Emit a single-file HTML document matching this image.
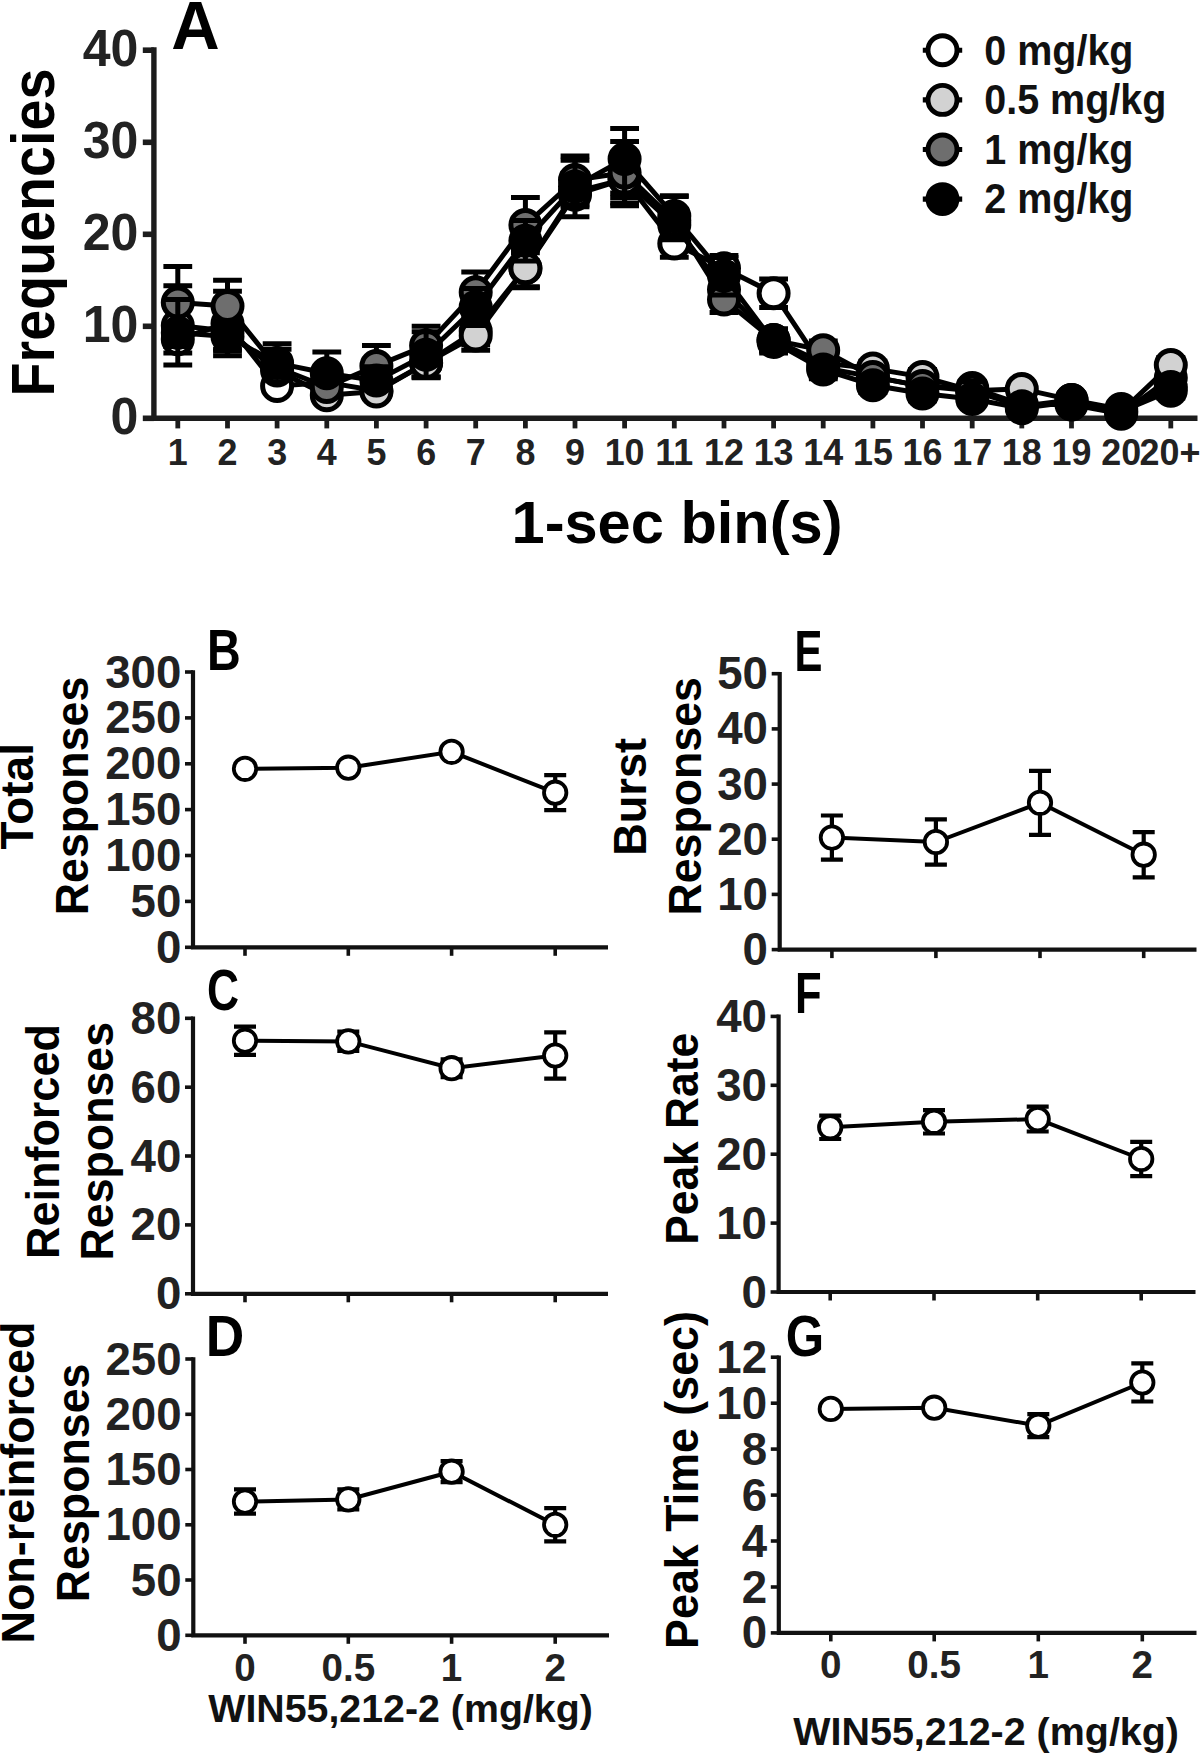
<!DOCTYPE html>
<html lang="en"><head><meta charset="utf-8"><title>Figure</title>
<style>
html,body{margin:0;padding:0;background:#fff;}
body{width:1200px;height:1753px;overflow:hidden;font-family:"Liberation Sans",Arial,Helvetica,sans-serif;}
svg{display:block;}
</style></head><body>
<svg width="1200" height="1753" viewBox="0 0 1200 1753">
<rect width="1200" height="1753" fill="#fff"/>
<g id="panelA">
<path d="M153.9,47.3V418.3H1197.5" fill="none" stroke="#1c1c1c" stroke-width="5.4" stroke-linejoin="miter"/>
<line x1="142.8" x2="153.9" y1="418.3" y2="418.3" stroke="#1c1c1c" stroke-width="5.6"/>
<text transform="translate(138.3,433.7) scale(0.962,1)" font-size="52" text-anchor="end" fill="#222" font-family="Liberation Sans, Arial, Helvetica, sans-serif" font-weight="bold">0</text>
<line x1="142.8" x2="153.9" y1="326.3" y2="326.3" stroke="#1c1c1c" stroke-width="5.6"/>
<text transform="translate(138.3,341.7) scale(0.962,1)" font-size="52" text-anchor="end" fill="#222" font-family="Liberation Sans, Arial, Helvetica, sans-serif" font-weight="bold">10</text>
<line x1="142.8" x2="153.9" y1="234.3" y2="234.3" stroke="#1c1c1c" stroke-width="5.6"/>
<text transform="translate(138.3,249.7) scale(0.962,1)" font-size="52" text-anchor="end" fill="#222" font-family="Liberation Sans, Arial, Helvetica, sans-serif" font-weight="bold">20</text>
<line x1="142.8" x2="153.9" y1="142.3" y2="142.3" stroke="#1c1c1c" stroke-width="5.6"/>
<text transform="translate(138.3,157.7) scale(0.962,1)" font-size="52" text-anchor="end" fill="#222" font-family="Liberation Sans, Arial, Helvetica, sans-serif" font-weight="bold">30</text>
<line x1="142.8" x2="153.9" y1="50.2" y2="50.2" stroke="#1c1c1c" stroke-width="5.6"/>
<text transform="translate(138.3,65.6) scale(0.962,1)" font-size="52" text-anchor="end" fill="#222" font-family="Liberation Sans, Arial, Helvetica, sans-serif" font-weight="bold">40</text>
<line x1="177.8" x2="177.8" y1="418.3" y2="428.4" stroke="#1c1c1c" stroke-width="4.8"/>
<text transform="translate(177.8,464.7) scale(0.970,1)" font-size="37" text-anchor="middle" fill="#222" font-family="Liberation Sans, Arial, Helvetica, sans-serif" font-weight="bold">1</text>
<line x1="227.5" x2="227.5" y1="418.3" y2="428.4" stroke="#1c1c1c" stroke-width="4.8"/>
<text transform="translate(227.5,464.7) scale(0.970,1)" font-size="37" text-anchor="middle" fill="#222" font-family="Liberation Sans, Arial, Helvetica, sans-serif" font-weight="bold">2</text>
<line x1="277.1" x2="277.1" y1="418.3" y2="428.4" stroke="#1c1c1c" stroke-width="4.8"/>
<text transform="translate(277.1,464.7) scale(0.970,1)" font-size="37" text-anchor="middle" fill="#222" font-family="Liberation Sans, Arial, Helvetica, sans-serif" font-weight="bold">3</text>
<line x1="326.8" x2="326.8" y1="418.3" y2="428.4" stroke="#1c1c1c" stroke-width="4.8"/>
<text transform="translate(326.8,464.7) scale(0.970,1)" font-size="37" text-anchor="middle" fill="#222" font-family="Liberation Sans, Arial, Helvetica, sans-serif" font-weight="bold">4</text>
<line x1="376.4" x2="376.4" y1="418.3" y2="428.4" stroke="#1c1c1c" stroke-width="4.8"/>
<text transform="translate(376.4,464.7) scale(0.970,1)" font-size="37" text-anchor="middle" fill="#222" font-family="Liberation Sans, Arial, Helvetica, sans-serif" font-weight="bold">5</text>
<line x1="426.1" x2="426.1" y1="418.3" y2="428.4" stroke="#1c1c1c" stroke-width="4.8"/>
<text transform="translate(426.1,464.7) scale(0.970,1)" font-size="37" text-anchor="middle" fill="#222" font-family="Liberation Sans, Arial, Helvetica, sans-serif" font-weight="bold">6</text>
<line x1="475.7" x2="475.7" y1="418.3" y2="428.4" stroke="#1c1c1c" stroke-width="4.8"/>
<text transform="translate(475.7,464.7) scale(0.970,1)" font-size="37" text-anchor="middle" fill="#222" font-family="Liberation Sans, Arial, Helvetica, sans-serif" font-weight="bold">7</text>
<line x1="525.4" x2="525.4" y1="418.3" y2="428.4" stroke="#1c1c1c" stroke-width="4.8"/>
<text transform="translate(525.4,464.7) scale(0.970,1)" font-size="37" text-anchor="middle" fill="#222" font-family="Liberation Sans, Arial, Helvetica, sans-serif" font-weight="bold">8</text>
<line x1="575.0" x2="575.0" y1="418.3" y2="428.4" stroke="#1c1c1c" stroke-width="4.8"/>
<text transform="translate(575.0,464.7) scale(0.970,1)" font-size="37" text-anchor="middle" fill="#222" font-family="Liberation Sans, Arial, Helvetica, sans-serif" font-weight="bold">9</text>
<line x1="624.6" x2="624.6" y1="418.3" y2="428.4" stroke="#1c1c1c" stroke-width="4.8"/>
<text transform="translate(624.6,464.7) scale(0.970,1)" font-size="37" text-anchor="middle" fill="#222" font-family="Liberation Sans, Arial, Helvetica, sans-serif" font-weight="bold">10</text>
<line x1="674.3" x2="674.3" y1="418.3" y2="428.4" stroke="#1c1c1c" stroke-width="4.8"/>
<text transform="translate(674.3,464.7) scale(0.970,1)" font-size="37" text-anchor="middle" fill="#222" font-family="Liberation Sans, Arial, Helvetica, sans-serif" font-weight="bold">11</text>
<line x1="724.0" x2="724.0" y1="418.3" y2="428.4" stroke="#1c1c1c" stroke-width="4.8"/>
<text transform="translate(724.0,464.7) scale(0.970,1)" font-size="37" text-anchor="middle" fill="#222" font-family="Liberation Sans, Arial, Helvetica, sans-serif" font-weight="bold">12</text>
<line x1="773.6" x2="773.6" y1="418.3" y2="428.4" stroke="#1c1c1c" stroke-width="4.8"/>
<text transform="translate(773.6,464.7) scale(0.970,1)" font-size="37" text-anchor="middle" fill="#222" font-family="Liberation Sans, Arial, Helvetica, sans-serif" font-weight="bold">13</text>
<line x1="823.2" x2="823.2" y1="418.3" y2="428.4" stroke="#1c1c1c" stroke-width="4.8"/>
<text transform="translate(823.2,464.7) scale(0.970,1)" font-size="37" text-anchor="middle" fill="#222" font-family="Liberation Sans, Arial, Helvetica, sans-serif" font-weight="bold">14</text>
<line x1="872.9" x2="872.9" y1="418.3" y2="428.4" stroke="#1c1c1c" stroke-width="4.8"/>
<text transform="translate(872.9,464.7) scale(0.970,1)" font-size="37" text-anchor="middle" fill="#222" font-family="Liberation Sans, Arial, Helvetica, sans-serif" font-weight="bold">15</text>
<line x1="922.5" x2="922.5" y1="418.3" y2="428.4" stroke="#1c1c1c" stroke-width="4.8"/>
<text transform="translate(922.5,464.7) scale(0.970,1)" font-size="37" text-anchor="middle" fill="#222" font-family="Liberation Sans, Arial, Helvetica, sans-serif" font-weight="bold">16</text>
<line x1="972.2" x2="972.2" y1="418.3" y2="428.4" stroke="#1c1c1c" stroke-width="4.8"/>
<text transform="translate(972.2,464.7) scale(0.970,1)" font-size="37" text-anchor="middle" fill="#222" font-family="Liberation Sans, Arial, Helvetica, sans-serif" font-weight="bold">17</text>
<line x1="1021.8" x2="1021.8" y1="418.3" y2="428.4" stroke="#1c1c1c" stroke-width="4.8"/>
<text transform="translate(1021.8,464.7) scale(0.970,1)" font-size="37" text-anchor="middle" fill="#222" font-family="Liberation Sans, Arial, Helvetica, sans-serif" font-weight="bold">18</text>
<line x1="1071.5" x2="1071.5" y1="418.3" y2="428.4" stroke="#1c1c1c" stroke-width="4.8"/>
<text transform="translate(1071.5,464.7) scale(0.970,1)" font-size="37" text-anchor="middle" fill="#222" font-family="Liberation Sans, Arial, Helvetica, sans-serif" font-weight="bold">19</text>
<line x1="1121.2" x2="1121.2" y1="418.3" y2="428.4" stroke="#1c1c1c" stroke-width="4.8"/>
<text transform="translate(1121.2,464.7) scale(0.970,1)" font-size="37" text-anchor="middle" fill="#222" font-family="Liberation Sans, Arial, Helvetica, sans-serif" font-weight="bold">20</text>
<line x1="1170.8" x2="1170.8" y1="418.3" y2="428.4" stroke="#1c1c1c" stroke-width="4.8"/>
<text transform="translate(1169.9,464.7) scale(0.970,1)" font-size="37" text-anchor="middle" fill="#222" font-family="Liberation Sans, Arial, Helvetica, sans-serif" font-weight="bold">20+</text>
<path d="M177.8,325.4V353.0M163.4,325.4h28.8M163.4,353.0h28.8M227.5,291.3V355.7M213.1,291.3h28.8M213.1,355.7h28.8M277.1,380.6V391.6M262.7,380.6h28.8M262.7,391.6h28.8M326.8,376.9V387.9M312.4,376.9h28.8M312.4,387.9h28.8M376.4,385.2V396.2M362.0,385.2h28.8M362.0,396.2h28.8M426.1,349.3V376.9M411.7,349.3h28.8M411.7,376.9h28.8M475.7,317.1V344.7M461.3,317.1h28.8M461.3,344.7h28.8M525.4,249.9V286.7M511.0,249.9h28.8M511.0,286.7h28.8M575.0,176.3V216.8M560.6,176.3h28.8M560.6,216.8h28.8M624.6,169.9V197.5M610.2,169.9h28.8M610.2,197.5h28.8M674.3,229.7V257.3M659.9,229.7h28.8M659.9,257.3h28.8M724.0,255.5V281.2M709.6,255.5h28.8M709.6,281.2h28.8M773.6,278.9V307.4M759.2,278.9h28.8M759.2,307.4h28.8M823.2,358.5V376.9M808.9,358.5h28.8M808.9,376.9h28.8M872.9,369.5V384.3M858.5,369.5h28.8M858.5,384.3h28.8M922.5,378.7V393.5M908.1,378.7h28.8M908.1,393.5h28.8M972.2,382.4V393.5M957.8,382.4h28.8M957.8,393.5h28.8M1021.8,399.9V409.1M1007.4,399.9h28.8M1007.4,409.1h28.8M1071.5,399.9V409.1M1057.1,399.9h28.8M1057.1,409.1h28.8M1121.2,410.9V416.5M1106.8,410.9h28.8M1106.8,416.5h28.8M1170.8,370.5V385.2M1156.4,370.5h28.8M1156.4,385.2h28.8" fill="none" stroke="#000" stroke-width="5.0"/>
<polyline points="177.8,339.2 227.5,323.5 277.1,386.1 326.8,382.4 376.4,390.7 426.1,363.1 475.7,330.9 525.4,268.3 575.0,194.7 624.6,179.1 674.3,243.5 724.0,268.3 773.6,293.2 823.2,367.7 872.9,376.9 922.5,386.1 972.2,387.9 1021.8,404.5 1071.5,404.5 1121.2,413.7 1170.8,377.8" fill="none" stroke="#000" stroke-width="5.0" stroke-linejoin="round"/>
<circle cx="177.8" cy="339.2" r="14.5" fill="#ffffff" stroke="#000" stroke-width="5.0"/>
<circle cx="227.5" cy="323.5" r="14.5" fill="#ffffff" stroke="#000" stroke-width="5.0"/>
<circle cx="277.1" cy="386.1" r="14.5" fill="#ffffff" stroke="#000" stroke-width="5.0"/>
<circle cx="326.8" cy="382.4" r="14.5" fill="#ffffff" stroke="#000" stroke-width="5.0"/>
<circle cx="376.4" cy="390.7" r="14.5" fill="#ffffff" stroke="#000" stroke-width="5.0"/>
<circle cx="426.1" cy="363.1" r="14.5" fill="#ffffff" stroke="#000" stroke-width="5.0"/>
<circle cx="475.7" cy="330.9" r="14.5" fill="#ffffff" stroke="#000" stroke-width="5.0"/>
<circle cx="525.4" cy="268.3" r="14.5" fill="#ffffff" stroke="#000" stroke-width="5.0"/>
<circle cx="575.0" cy="194.7" r="14.5" fill="#ffffff" stroke="#000" stroke-width="5.0"/>
<circle cx="624.6" cy="179.1" r="14.5" fill="#ffffff" stroke="#000" stroke-width="5.0"/>
<circle cx="674.3" cy="243.5" r="14.5" fill="#ffffff" stroke="#000" stroke-width="5.0"/>
<circle cx="724.0" cy="268.3" r="14.5" fill="#ffffff" stroke="#000" stroke-width="5.0"/>
<circle cx="773.6" cy="293.2" r="14.5" fill="#ffffff" stroke="#000" stroke-width="5.0"/>
<circle cx="823.2" cy="367.7" r="14.5" fill="#ffffff" stroke="#000" stroke-width="5.0"/>
<circle cx="872.9" cy="376.9" r="14.5" fill="#ffffff" stroke="#000" stroke-width="5.0"/>
<circle cx="922.5" cy="386.1" r="14.5" fill="#ffffff" stroke="#000" stroke-width="5.0"/>
<circle cx="972.2" cy="387.9" r="14.5" fill="#ffffff" stroke="#000" stroke-width="5.0"/>
<circle cx="1021.8" cy="404.5" r="14.5" fill="#ffffff" stroke="#000" stroke-width="5.0"/>
<circle cx="1071.5" cy="404.5" r="14.5" fill="#ffffff" stroke="#000" stroke-width="5.0"/>
<circle cx="1121.2" cy="413.7" r="14.5" fill="#ffffff" stroke="#000" stroke-width="5.0"/>
<circle cx="1170.8" cy="377.8" r="14.5" fill="#ffffff" stroke="#000" stroke-width="5.0"/>
<path d="M177.8,285.8V364.9M163.4,285.8h28.8M163.4,364.9h28.8M227.5,312.5V349.3M213.1,312.5h28.8M213.1,349.3h28.8M277.1,364.9V376.0M262.7,364.9h28.8M262.7,376.0h28.8M326.8,389.8V400.8M312.4,389.8h28.8M312.4,400.8h28.8M376.4,386.1V397.1M362.0,386.1h28.8M362.0,397.1h28.8M426.1,349.3V376.9M411.7,349.3h28.8M411.7,376.9h28.8M475.7,320.8V350.2M461.3,320.8h28.8M461.3,350.2h28.8M525.4,249.0V287.7M511.0,249.0h28.8M511.0,287.7h28.8M575.0,173.6V206.7M560.6,173.6h28.8M560.6,206.7h28.8M624.6,169.9V203.0M610.2,169.9h28.8M610.2,203.0h28.8M674.3,210.4V239.8M659.9,210.4h28.8M659.9,239.8h28.8M724.0,276.6V302.4M709.6,276.6h28.8M709.6,302.4h28.8M773.6,329.1V351.1M759.2,329.1h28.8M759.2,351.1h28.8M823.2,353.9V372.3M808.9,353.9h28.8M808.9,372.3h28.8M872.9,361.3V376.0M858.5,361.3h28.8M858.5,376.0h28.8M922.5,369.5V384.3M908.1,369.5h28.8M908.1,384.3h28.8M972.2,385.2V396.2M957.8,385.2h28.8M957.8,396.2h28.8M1021.8,384.3V393.5M1007.4,384.3h28.8M1007.4,393.5h28.8M1071.5,395.3V404.5M1057.1,395.3h28.8M1057.1,404.5h28.8M1121.2,409.1V414.6M1106.8,409.1h28.8M1106.8,414.6h28.8M1170.8,357.6V372.3M1156.4,357.6h28.8M1156.4,372.3h28.8" fill="none" stroke="#000" stroke-width="5.0"/>
<polyline points="177.8,325.4 227.5,330.9 277.1,370.5 326.8,395.3 376.4,391.6 426.1,363.1 475.7,335.5 525.4,268.3 575.0,192.0 624.6,179.1 674.3,225.1 724.0,289.5 773.6,340.1 823.2,363.1 872.9,368.6 922.5,376.9 972.2,390.7 1021.8,388.9 1071.5,399.9 1121.2,411.9 1170.8,364.9" fill="none" stroke="#000" stroke-width="5.0" stroke-linejoin="round"/>
<circle cx="177.8" cy="325.4" r="14.5" fill="#d2d2d2" stroke="#000" stroke-width="5.0"/>
<circle cx="227.5" cy="330.9" r="14.5" fill="#d2d2d2" stroke="#000" stroke-width="5.0"/>
<circle cx="277.1" cy="370.5" r="14.5" fill="#d2d2d2" stroke="#000" stroke-width="5.0"/>
<circle cx="326.8" cy="395.3" r="14.5" fill="#d2d2d2" stroke="#000" stroke-width="5.0"/>
<circle cx="376.4" cy="391.6" r="14.5" fill="#d2d2d2" stroke="#000" stroke-width="5.0"/>
<circle cx="426.1" cy="363.1" r="14.5" fill="#d2d2d2" stroke="#000" stroke-width="5.0"/>
<circle cx="475.7" cy="335.5" r="14.5" fill="#d2d2d2" stroke="#000" stroke-width="5.0"/>
<circle cx="525.4" cy="268.3" r="14.5" fill="#d2d2d2" stroke="#000" stroke-width="5.0"/>
<circle cx="575.0" cy="192.0" r="14.5" fill="#d2d2d2" stroke="#000" stroke-width="5.0"/>
<circle cx="624.6" cy="179.1" r="14.5" fill="#d2d2d2" stroke="#000" stroke-width="5.0"/>
<circle cx="674.3" cy="225.1" r="14.5" fill="#d2d2d2" stroke="#000" stroke-width="5.0"/>
<circle cx="724.0" cy="289.5" r="14.5" fill="#d2d2d2" stroke="#000" stroke-width="5.0"/>
<circle cx="773.6" cy="340.1" r="14.5" fill="#d2d2d2" stroke="#000" stroke-width="5.0"/>
<circle cx="823.2" cy="363.1" r="14.5" fill="#d2d2d2" stroke="#000" stroke-width="5.0"/>
<circle cx="872.9" cy="368.6" r="14.5" fill="#d2d2d2" stroke="#000" stroke-width="5.0"/>
<circle cx="922.5" cy="376.9" r="14.5" fill="#d2d2d2" stroke="#000" stroke-width="5.0"/>
<circle cx="972.2" cy="390.7" r="14.5" fill="#d2d2d2" stroke="#000" stroke-width="5.0"/>
<circle cx="1021.8" cy="388.9" r="14.5" fill="#d2d2d2" stroke="#000" stroke-width="5.0"/>
<circle cx="1071.5" cy="399.9" r="14.5" fill="#d2d2d2" stroke="#000" stroke-width="5.0"/>
<circle cx="1121.2" cy="411.9" r="14.5" fill="#d2d2d2" stroke="#000" stroke-width="5.0"/>
<circle cx="1170.8" cy="364.9" r="14.5" fill="#d2d2d2" stroke="#000" stroke-width="5.0"/>
<path d="M177.8,266.5V338.3M163.4,266.5h28.8M163.4,338.3h28.8M227.5,280.3V331.8M213.1,280.3h28.8M213.1,331.8h28.8M277.1,349.3V373.2M262.7,349.3h28.8M262.7,373.2h28.8M326.8,372.3V392.5M312.4,372.3h28.8M312.4,392.5h28.8M376.4,345.6V371.4M362.0,345.6h28.8M362.0,371.4h28.8M426.1,326.3V364.9M411.7,326.3h28.8M411.7,364.9h28.8M475.7,272.0V312.5M461.3,272.0h28.8M461.3,312.5h28.8M525.4,197.5V252.7M511.0,197.5h28.8M511.0,252.7h28.8M575.0,156.1V189.2M560.6,156.1h28.8M560.6,189.2h28.8M624.6,141.4V205.8M610.2,141.4h28.8M610.2,205.8h28.8M674.3,196.6V229.7M659.9,196.6h28.8M659.9,229.7h28.8M724.0,286.7V312.5M709.6,286.7h28.8M709.6,312.5h28.8M773.6,329.1V351.1M759.2,329.1h28.8M759.2,351.1h28.8M823.2,341.0V359.4M808.9,341.0h28.8M808.9,359.4h28.8M872.9,369.5V384.3M858.5,369.5h28.8M858.5,384.3h28.8M922.5,378.7V393.5M908.1,378.7h28.8M908.1,393.5h28.8M972.2,385.2V396.2M957.8,385.2h28.8M957.8,396.2h28.8M1021.8,401.7V410.9M1007.4,401.7h28.8M1007.4,410.9h28.8M1071.5,395.3V404.5M1057.1,395.3h28.8M1057.1,404.5h28.8M1121.2,406.3V411.9M1106.8,406.3h28.8M1106.8,411.9h28.8M1170.8,379.7V394.4M1156.4,379.7h28.8M1156.4,394.4h28.8" fill="none" stroke="#000" stroke-width="5.0"/>
<polyline points="177.8,302.4 227.5,306.1 277.1,367.7 326.8,387.0 376.4,365.9 426.1,345.6 475.7,292.3 525.4,225.1 575.0,180.0 624.6,172.7 674.3,220.5 724.0,299.6 773.6,340.1 823.2,350.2 872.9,376.9 922.5,386.1 972.2,390.7 1021.8,406.3 1071.5,399.9 1121.2,409.1 1170.8,387.0" fill="none" stroke="#000" stroke-width="5.0" stroke-linejoin="round"/>
<circle cx="177.8" cy="302.4" r="14.5" fill="#6e6e6e" stroke="#000" stroke-width="5.0"/>
<circle cx="227.5" cy="306.1" r="14.5" fill="#6e6e6e" stroke="#000" stroke-width="5.0"/>
<circle cx="277.1" cy="367.7" r="14.5" fill="#6e6e6e" stroke="#000" stroke-width="5.0"/>
<circle cx="326.8" cy="387.0" r="14.5" fill="#6e6e6e" stroke="#000" stroke-width="5.0"/>
<circle cx="376.4" cy="365.9" r="14.5" fill="#6e6e6e" stroke="#000" stroke-width="5.0"/>
<circle cx="426.1" cy="345.6" r="14.5" fill="#6e6e6e" stroke="#000" stroke-width="5.0"/>
<circle cx="475.7" cy="292.3" r="14.5" fill="#6e6e6e" stroke="#000" stroke-width="5.0"/>
<circle cx="525.4" cy="225.1" r="14.5" fill="#6e6e6e" stroke="#000" stroke-width="5.0"/>
<circle cx="575.0" cy="180.0" r="14.5" fill="#6e6e6e" stroke="#000" stroke-width="5.0"/>
<circle cx="624.6" cy="172.7" r="14.5" fill="#6e6e6e" stroke="#000" stroke-width="5.0"/>
<circle cx="674.3" cy="220.5" r="14.5" fill="#6e6e6e" stroke="#000" stroke-width="5.0"/>
<circle cx="724.0" cy="299.6" r="14.5" fill="#6e6e6e" stroke="#000" stroke-width="5.0"/>
<circle cx="773.6" cy="340.1" r="14.5" fill="#6e6e6e" stroke="#000" stroke-width="5.0"/>
<circle cx="823.2" cy="350.2" r="14.5" fill="#6e6e6e" stroke="#000" stroke-width="5.0"/>
<circle cx="872.9" cy="376.9" r="14.5" fill="#6e6e6e" stroke="#000" stroke-width="5.0"/>
<circle cx="922.5" cy="386.1" r="14.5" fill="#6e6e6e" stroke="#000" stroke-width="5.0"/>
<circle cx="972.2" cy="390.7" r="14.5" fill="#6e6e6e" stroke="#000" stroke-width="5.0"/>
<circle cx="1021.8" cy="406.3" r="14.5" fill="#6e6e6e" stroke="#000" stroke-width="5.0"/>
<circle cx="1071.5" cy="399.9" r="14.5" fill="#6e6e6e" stroke="#000" stroke-width="5.0"/>
<circle cx="1121.2" cy="409.1" r="14.5" fill="#6e6e6e" stroke="#000" stroke-width="5.0"/>
<circle cx="1170.8" cy="387.0" r="14.5" fill="#6e6e6e" stroke="#000" stroke-width="5.0"/>
<path d="M177.8,299.6V346.5M163.4,299.6h28.8M163.4,346.5h28.8M227.5,321.7V351.1M213.1,321.7h28.8M213.1,351.1h28.8M277.1,343.8V368.6M262.7,343.8h28.8M262.7,368.6h28.8M326.8,352.1V378.7M312.4,352.1h28.8M312.4,378.7h28.8M376.4,366.8V386.1M362.0,366.8h28.8M362.0,386.1h28.8M426.1,331.8V377.8M411.7,331.8h28.8M411.7,377.8h28.8M475.7,288.6V325.4M461.3,288.6h28.8M461.3,325.4h28.8M525.4,220.5V261.0M511.0,220.5h28.8M511.0,261.0h28.8M575.0,160.2V204.9M560.6,160.2h28.8M560.6,204.9h28.8M624.6,128.5V192.9M610.2,128.5h28.8M610.2,192.9h28.8M674.3,195.7V236.1M659.9,195.7h28.8M659.9,236.1h28.8M724.0,257.5V295.0M709.6,257.5h28.8M709.6,295.0h28.8M773.6,330.9V353.0M759.2,330.9h28.8M759.2,353.0h28.8M823.2,360.3V378.7M808.9,360.3h28.8M808.9,378.7h28.8M872.9,377.8V392.5M858.5,377.8h28.8M858.5,392.5h28.8M922.5,386.1V400.8M908.1,386.1h28.8M908.1,400.8h28.8M972.2,381.5V404.5M957.8,381.5h28.8M957.8,404.5h28.8M1021.8,403.6V412.8M1007.4,403.6h28.8M1007.4,412.8h28.8M1071.5,397.1V406.3M1057.1,397.1h28.8M1057.1,406.3h28.8M1121.2,408.6V414.2M1106.8,408.6h28.8M1106.8,414.2h28.8M1170.8,383.3V398.1M1156.4,383.3h28.8M1156.4,398.1h28.8" fill="none" stroke="#000" stroke-width="5.0"/>
<polyline points="177.8,332.7 227.5,336.4 277.1,363.1 326.8,373.2 376.4,380.6 426.1,354.8 475.7,307.0 525.4,240.7 575.0,186.5 624.6,158.9 674.3,215.9 724.0,275.7 773.6,341.9 823.2,369.5 872.9,385.2 922.5,393.5 972.2,399.0 1021.8,408.2 1071.5,401.7 1121.2,411.4 1170.8,390.7" fill="none" stroke="#000" stroke-width="5.0" stroke-linejoin="round"/>
<circle cx="177.8" cy="332.7" r="14.5" fill="#000000" stroke="#000" stroke-width="5.0"/>
<circle cx="227.5" cy="336.4" r="14.5" fill="#000000" stroke="#000" stroke-width="5.0"/>
<circle cx="277.1" cy="363.1" r="14.5" fill="#000000" stroke="#000" stroke-width="5.0"/>
<circle cx="326.8" cy="373.2" r="14.5" fill="#000000" stroke="#000" stroke-width="5.0"/>
<circle cx="376.4" cy="380.6" r="14.5" fill="#000000" stroke="#000" stroke-width="5.0"/>
<circle cx="426.1" cy="354.8" r="14.5" fill="#000000" stroke="#000" stroke-width="5.0"/>
<circle cx="475.7" cy="307.0" r="14.5" fill="#000000" stroke="#000" stroke-width="5.0"/>
<circle cx="525.4" cy="240.7" r="14.5" fill="#000000" stroke="#000" stroke-width="5.0"/>
<circle cx="575.0" cy="186.5" r="14.5" fill="#000000" stroke="#000" stroke-width="5.0"/>
<circle cx="624.6" cy="158.9" r="14.5" fill="#000000" stroke="#000" stroke-width="5.0"/>
<circle cx="674.3" cy="215.9" r="14.5" fill="#000000" stroke="#000" stroke-width="5.0"/>
<circle cx="724.0" cy="275.7" r="14.5" fill="#000000" stroke="#000" stroke-width="5.0"/>
<circle cx="773.6" cy="341.9" r="14.5" fill="#000000" stroke="#000" stroke-width="5.0"/>
<circle cx="823.2" cy="369.5" r="14.5" fill="#000000" stroke="#000" stroke-width="5.0"/>
<circle cx="872.9" cy="385.2" r="14.5" fill="#000000" stroke="#000" stroke-width="5.0"/>
<circle cx="922.5" cy="393.5" r="14.5" fill="#000000" stroke="#000" stroke-width="5.0"/>
<circle cx="972.2" cy="399.0" r="14.5" fill="#000000" stroke="#000" stroke-width="5.0"/>
<circle cx="1021.8" cy="408.2" r="14.5" fill="#000000" stroke="#000" stroke-width="5.0"/>
<circle cx="1071.5" cy="401.7" r="14.5" fill="#000000" stroke="#000" stroke-width="5.0"/>
<circle cx="1121.2" cy="411.4" r="14.5" fill="#000000" stroke="#000" stroke-width="5.0"/>
<circle cx="1170.8" cy="390.7" r="14.5" fill="#000000" stroke="#000" stroke-width="5.0"/>
<line x1="922.8" x2="962.2" y1="50.3" y2="50.3" stroke="#000" stroke-width="5.1"/>
<circle cx="942.5" cy="50.3" r="14.5" fill="#ffffff" stroke="#000" stroke-width="4.9"/>
<text transform="translate(984.2,64.5) scale(0.950,1)" font-size="41.6" text-anchor="start" fill="#111" font-family="Liberation Sans, Arial, Helvetica, sans-serif" font-weight="bold">0 mg/kg</text>
<line x1="922.8" x2="962.2" y1="99.9" y2="99.9" stroke="#000" stroke-width="5.1"/>
<circle cx="942.5" cy="99.9" r="14.5" fill="#d2d2d2" stroke="#000" stroke-width="4.9"/>
<text transform="translate(984.2,114.1) scale(0.950,1)" font-size="41.6" text-anchor="start" fill="#111" font-family="Liberation Sans, Arial, Helvetica, sans-serif" font-weight="bold">0.5 mg/kg</text>
<line x1="922.8" x2="962.2" y1="149.5" y2="149.5" stroke="#000" stroke-width="5.1"/>
<circle cx="942.5" cy="149.5" r="14.5" fill="#6e6e6e" stroke="#000" stroke-width="4.9"/>
<text transform="translate(984.2,163.7) scale(0.950,1)" font-size="41.6" text-anchor="start" fill="#111" font-family="Liberation Sans, Arial, Helvetica, sans-serif" font-weight="bold">1 mg/kg</text>
<line x1="922.8" x2="962.2" y1="199.1" y2="199.1" stroke="#000" stroke-width="5.1"/>
<circle cx="942.5" cy="199.1" r="14.5" fill="#000000" stroke="#000" stroke-width="4.9"/>
<text transform="translate(984.2,213.3) scale(0.950,1)" font-size="41.6" text-anchor="start" fill="#111" font-family="Liberation Sans, Arial, Helvetica, sans-serif" font-weight="bold">2 mg/kg</text>
<text transform="translate(171.2,48.8) scale(0.972,1)" font-size="69.04" text-anchor="start" fill="#000" font-family="Liberation Sans, Arial, Helvetica, sans-serif" font-weight="bold">A</text>
<text x="677" y="542.7" font-size="59.5" text-anchor="middle" textLength="331" lengthAdjust="spacingAndGlyphs" fill="#000" font-family="Liberation Sans, Arial, Helvetica, sans-serif" font-weight="bold">1-sec bin(s)</text>
<text transform="translate(54.0,232.5) rotate(-90) scale(0.905,1)" font-size="61.5" text-anchor="middle" fill="#000" font-family="Liberation Sans, Arial, Helvetica, sans-serif" font-weight="bold">Frequencies</text>
</g>
<g id="panelB">
<path d="M193.0,670.2V947.3H608.0" fill="none" stroke="#111" stroke-width="4.2"/>
<line x1="185.0" x2="193.0" y1="947.3" y2="947.3" stroke="#111" stroke-width="3.6"/>
<text transform="translate(181.3,962.8) scale(0.973,1)" font-size="46.9" text-anchor="end" fill="#222" font-family="Liberation Sans, Arial, Helvetica, sans-serif" font-weight="bold">0</text>
<line x1="185.0" x2="193.0" y1="901.4" y2="901.4" stroke="#111" stroke-width="3.6"/>
<text transform="translate(181.3,916.9) scale(0.973,1)" font-size="46.9" text-anchor="end" fill="#222" font-family="Liberation Sans, Arial, Helvetica, sans-serif" font-weight="bold">50</text>
<line x1="185.0" x2="193.0" y1="855.5" y2="855.5" stroke="#111" stroke-width="3.6"/>
<text transform="translate(181.3,871.0) scale(0.973,1)" font-size="46.9" text-anchor="end" fill="#222" font-family="Liberation Sans, Arial, Helvetica, sans-serif" font-weight="bold">100</text>
<line x1="185.0" x2="193.0" y1="809.6" y2="809.6" stroke="#111" stroke-width="3.6"/>
<text transform="translate(181.3,825.1) scale(0.973,1)" font-size="46.9" text-anchor="end" fill="#222" font-family="Liberation Sans, Arial, Helvetica, sans-serif" font-weight="bold">150</text>
<line x1="185.0" x2="193.0" y1="763.8" y2="763.8" stroke="#111" stroke-width="3.6"/>
<text transform="translate(181.3,779.3) scale(0.973,1)" font-size="46.9" text-anchor="end" fill="#222" font-family="Liberation Sans, Arial, Helvetica, sans-serif" font-weight="bold">200</text>
<line x1="185.0" x2="193.0" y1="717.9" y2="717.9" stroke="#111" stroke-width="3.6"/>
<text transform="translate(181.3,733.4) scale(0.973,1)" font-size="46.9" text-anchor="end" fill="#222" font-family="Liberation Sans, Arial, Helvetica, sans-serif" font-weight="bold">250</text>
<line x1="185.0" x2="193.0" y1="672.0" y2="672.0" stroke="#111" stroke-width="3.6"/>
<text transform="translate(181.3,687.5) scale(0.973,1)" font-size="46.9" text-anchor="end" fill="#222" font-family="Liberation Sans, Arial, Helvetica, sans-serif" font-weight="bold">300</text>
<line x1="245.0" x2="245.0" y1="947.3" y2="955.8" stroke="#111" stroke-width="3.6"/>
<line x1="348.3" x2="348.3" y1="947.3" y2="955.8" stroke="#111" stroke-width="3.6"/>
<line x1="451.6" x2="451.6" y1="947.3" y2="955.8" stroke="#111" stroke-width="3.6"/>
<line x1="555.2" x2="555.2" y1="947.3" y2="955.8" stroke="#111" stroke-width="3.6"/>
<path d="M555.2,775.2V810.1M544.2,775.2h22M544.2,810.1h22" fill="none" stroke="#000" stroke-width="4.2"/>
<polyline points="245.0,768.8 348.3,767.7 451.6,751.8 555.2,792.7" fill="none" stroke="#000" stroke-width="4"/>
<circle cx="245.0" cy="768.8" r="11.2" fill="#fff" stroke="#000" stroke-width="3.8"/>
<circle cx="348.3" cy="767.7" r="11.2" fill="#fff" stroke="#000" stroke-width="3.8"/>
<circle cx="451.6" cy="751.8" r="11.2" fill="#fff" stroke="#000" stroke-width="3.8"/>
<circle cx="555.2" cy="792.7" r="11.2" fill="#fff" stroke="#000" stroke-width="3.8"/>
<text transform="translate(207.1,669.5) scale(0.820,1)" font-size="56.98" text-anchor="start" fill="#000" font-family="Liberation Sans, Arial, Helvetica, sans-serif" font-weight="bold">B</text>
<text transform="translate(33.1,796.3) rotate(-90)" font-size="46" text-anchor="middle" fill="#000" font-family="Liberation Sans, Arial, Helvetica, sans-serif" font-weight="bold">Total</text>
<text transform="translate(88.1,796.0) rotate(-90) scale(0.972,1)" font-size="46" text-anchor="middle" fill="#000" font-family="Liberation Sans, Arial, Helvetica, sans-serif" font-weight="bold">Responses</text>
</g>
<g id="panelC">
<path d="M193.0,1016.5V1293.8H608.0" fill="none" stroke="#111" stroke-width="4.2"/>
<line x1="185.0" x2="193.0" y1="1293.8" y2="1293.8" stroke="#111" stroke-width="3.6"/>
<text transform="translate(181.3,1309.3) scale(0.973,1)" font-size="46.9" text-anchor="end" fill="#222" font-family="Liberation Sans, Arial, Helvetica, sans-serif" font-weight="bold">0</text>
<line x1="185.0" x2="193.0" y1="1224.9" y2="1224.9" stroke="#111" stroke-width="3.6"/>
<text transform="translate(181.3,1240.4) scale(0.973,1)" font-size="46.9" text-anchor="end" fill="#222" font-family="Liberation Sans, Arial, Helvetica, sans-serif" font-weight="bold">20</text>
<line x1="185.0" x2="193.0" y1="1156.0" y2="1156.0" stroke="#111" stroke-width="3.6"/>
<text transform="translate(181.3,1171.5) scale(0.973,1)" font-size="46.9" text-anchor="end" fill="#222" font-family="Liberation Sans, Arial, Helvetica, sans-serif" font-weight="bold">40</text>
<line x1="185.0" x2="193.0" y1="1087.2" y2="1087.2" stroke="#111" stroke-width="3.6"/>
<text transform="translate(181.3,1102.7) scale(0.973,1)" font-size="46.9" text-anchor="end" fill="#222" font-family="Liberation Sans, Arial, Helvetica, sans-serif" font-weight="bold">60</text>
<line x1="185.0" x2="193.0" y1="1018.3" y2="1018.3" stroke="#111" stroke-width="3.6"/>
<text transform="translate(181.3,1033.8) scale(0.973,1)" font-size="46.9" text-anchor="end" fill="#222" font-family="Liberation Sans, Arial, Helvetica, sans-serif" font-weight="bold">80</text>
<line x1="245.0" x2="245.0" y1="1293.8" y2="1302.3" stroke="#111" stroke-width="3.6"/>
<line x1="348.3" x2="348.3" y1="1293.8" y2="1302.3" stroke="#111" stroke-width="3.6"/>
<line x1="451.6" x2="451.6" y1="1293.8" y2="1302.3" stroke="#111" stroke-width="3.6"/>
<line x1="555.2" x2="555.2" y1="1293.8" y2="1302.3" stroke="#111" stroke-width="3.6"/>
<path d="M245.0,1026.6V1054.8M234.0,1026.6h22M234.0,1054.8h22M348.3,1031.7V1051.0M337.3,1031.7h22M337.3,1051.0h22M451.6,1059.3V1077.2M440.6,1059.3h22M440.6,1077.2h22M555.2,1032.4V1078.6M544.2,1032.4h22M544.2,1078.6h22" fill="none" stroke="#000" stroke-width="4.2"/>
<polyline points="245.0,1040.7 348.3,1041.4 451.6,1068.2 555.2,1055.5" fill="none" stroke="#000" stroke-width="4"/>
<circle cx="245.0" cy="1040.7" r="11.2" fill="#fff" stroke="#000" stroke-width="3.8"/>
<circle cx="348.3" cy="1041.4" r="11.2" fill="#fff" stroke="#000" stroke-width="3.8"/>
<circle cx="451.6" cy="1068.2" r="11.2" fill="#fff" stroke="#000" stroke-width="3.8"/>
<circle cx="555.2" cy="1055.5" r="11.2" fill="#fff" stroke="#000" stroke-width="3.8"/>
<text transform="translate(206.9,1010.4) scale(0.785,1)" font-size="56.5" text-anchor="start" fill="#000" font-family="Liberation Sans, Arial, Helvetica, sans-serif" font-weight="bold">C</text>
<text transform="translate(59.3,1141.6) rotate(-90) scale(0.978,1)" font-size="46" text-anchor="middle" fill="#000" font-family="Liberation Sans, Arial, Helvetica, sans-serif" font-weight="bold">Reinforced</text>
<text transform="translate(113.0,1141.2) rotate(-90) scale(0.972,1)" font-size="46" text-anchor="middle" fill="#000" font-family="Liberation Sans, Arial, Helvetica, sans-serif" font-weight="bold">Responses</text>
</g>
<g id="panelD">
<path d="M193.3,1357.2V1635.3H609.0" fill="none" stroke="#111" stroke-width="4.2"/>
<line x1="185.3" x2="193.3" y1="1635.3" y2="1635.3" stroke="#111" stroke-width="3.6"/>
<text transform="translate(181.6,1650.8) scale(0.973,1)" font-size="46.9" text-anchor="end" fill="#222" font-family="Liberation Sans, Arial, Helvetica, sans-serif" font-weight="bold">0</text>
<line x1="185.3" x2="193.3" y1="1580.0" y2="1580.0" stroke="#111" stroke-width="3.6"/>
<text transform="translate(181.6,1595.5) scale(0.973,1)" font-size="46.9" text-anchor="end" fill="#222" font-family="Liberation Sans, Arial, Helvetica, sans-serif" font-weight="bold">50</text>
<line x1="185.3" x2="193.3" y1="1524.8" y2="1524.8" stroke="#111" stroke-width="3.6"/>
<text transform="translate(181.6,1540.3) scale(0.973,1)" font-size="46.9" text-anchor="end" fill="#222" font-family="Liberation Sans, Arial, Helvetica, sans-serif" font-weight="bold">100</text>
<line x1="185.3" x2="193.3" y1="1469.5" y2="1469.5" stroke="#111" stroke-width="3.6"/>
<text transform="translate(181.6,1485.0) scale(0.973,1)" font-size="46.9" text-anchor="end" fill="#222" font-family="Liberation Sans, Arial, Helvetica, sans-serif" font-weight="bold">150</text>
<line x1="185.3" x2="193.3" y1="1414.3" y2="1414.3" stroke="#111" stroke-width="3.6"/>
<text transform="translate(181.6,1429.8) scale(0.973,1)" font-size="46.9" text-anchor="end" fill="#222" font-family="Liberation Sans, Arial, Helvetica, sans-serif" font-weight="bold">200</text>
<line x1="185.3" x2="193.3" y1="1359.0" y2="1359.0" stroke="#111" stroke-width="3.6"/>
<text transform="translate(181.6,1374.5) scale(0.973,1)" font-size="46.9" text-anchor="end" fill="#222" font-family="Liberation Sans, Arial, Helvetica, sans-serif" font-weight="bold">250</text>
<line x1="245.0" x2="245.0" y1="1635.3" y2="1643.8" stroke="#111" stroke-width="3.6"/>
<text transform="translate(245.0,1681.2) scale(0.990,1)" font-size="39" text-anchor="middle" fill="#222" font-family="Liberation Sans, Arial, Helvetica, sans-serif" font-weight="bold">0</text>
<line x1="348.3" x2="348.3" y1="1635.3" y2="1643.8" stroke="#111" stroke-width="3.6"/>
<text transform="translate(348.3,1681.2) scale(0.990,1)" font-size="39" text-anchor="middle" fill="#222" font-family="Liberation Sans, Arial, Helvetica, sans-serif" font-weight="bold">0.5</text>
<line x1="451.6" x2="451.6" y1="1635.3" y2="1643.8" stroke="#111" stroke-width="3.6"/>
<text transform="translate(451.6,1681.2) scale(0.990,1)" font-size="39" text-anchor="middle" fill="#222" font-family="Liberation Sans, Arial, Helvetica, sans-serif" font-weight="bold">1</text>
<line x1="555.2" x2="555.2" y1="1635.3" y2="1643.8" stroke="#111" stroke-width="3.6"/>
<text transform="translate(555.2,1681.2) scale(0.990,1)" font-size="39" text-anchor="middle" fill="#222" font-family="Liberation Sans, Arial, Helvetica, sans-serif" font-weight="bold">2</text>
<path d="M245.0,1489.4V1513.7M234.0,1489.4h22M234.0,1513.7h22M348.3,1489.4V1509.3M337.3,1489.4h22M337.3,1509.3h22M451.6,1461.2V1482.2M440.6,1461.2h22M440.6,1482.2h22M555.2,1508.2V1541.4M544.2,1508.2h22M544.2,1541.4h22" fill="none" stroke="#000" stroke-width="4.2"/>
<polyline points="245.0,1501.6 348.3,1499.4 451.6,1471.7 555.2,1524.8" fill="none" stroke="#000" stroke-width="4"/>
<circle cx="245.0" cy="1501.6" r="11.2" fill="#fff" stroke="#000" stroke-width="3.8"/>
<circle cx="348.3" cy="1499.4" r="11.2" fill="#fff" stroke="#000" stroke-width="3.8"/>
<circle cx="451.6" cy="1471.7" r="11.2" fill="#fff" stroke="#000" stroke-width="3.8"/>
<circle cx="555.2" cy="1524.8" r="11.2" fill="#fff" stroke="#000" stroke-width="3.8"/>
<text transform="translate(205.7,1356.3) scale(0.941,1)" font-size="56.69" text-anchor="start" fill="#000" font-family="Liberation Sans, Arial, Helvetica, sans-serif" font-weight="bold">D</text>
<text transform="translate(33.6,1482.5) rotate(-90) scale(0.977,1)" font-size="46" text-anchor="middle" fill="#000" font-family="Liberation Sans, Arial, Helvetica, sans-serif" font-weight="bold">Non-reinforced</text>
<text transform="translate(89.0,1482.9) rotate(-90) scale(0.972,1)" font-size="46" text-anchor="middle" fill="#000" font-family="Liberation Sans, Arial, Helvetica, sans-serif" font-weight="bold">Responses</text>
<text transform="translate(208.3,1722.2) scale(0.993,1)" font-size="39.6" text-anchor="start" fill="#111" font-family="Liberation Sans, Arial, Helvetica, sans-serif" font-weight="bold">WIN55,212-2 (mg/kg)</text>
</g>
<g id="panelE">
<path d="M779.7,671.9V949.6H1196.5" fill="none" stroke="#111" stroke-width="4.2"/>
<line x1="771.7" x2="779.7" y1="949.6" y2="949.6" stroke="#111" stroke-width="3.6"/>
<text transform="translate(768.0,965.1) scale(0.973,1)" font-size="46.9" text-anchor="end" fill="#222" font-family="Liberation Sans, Arial, Helvetica, sans-serif" font-weight="bold">0</text>
<line x1="771.7" x2="779.7" y1="894.4" y2="894.4" stroke="#111" stroke-width="3.6"/>
<text transform="translate(768.0,909.9) scale(0.973,1)" font-size="46.9" text-anchor="end" fill="#222" font-family="Liberation Sans, Arial, Helvetica, sans-serif" font-weight="bold">10</text>
<line x1="771.7" x2="779.7" y1="839.2" y2="839.2" stroke="#111" stroke-width="3.6"/>
<text transform="translate(768.0,854.7) scale(0.973,1)" font-size="46.9" text-anchor="end" fill="#222" font-family="Liberation Sans, Arial, Helvetica, sans-serif" font-weight="bold">20</text>
<line x1="771.7" x2="779.7" y1="784.1" y2="784.1" stroke="#111" stroke-width="3.6"/>
<text transform="translate(768.0,799.6) scale(0.973,1)" font-size="46.9" text-anchor="end" fill="#222" font-family="Liberation Sans, Arial, Helvetica, sans-serif" font-weight="bold">30</text>
<line x1="771.7" x2="779.7" y1="728.9" y2="728.9" stroke="#111" stroke-width="3.6"/>
<text transform="translate(768.0,744.4) scale(0.973,1)" font-size="46.9" text-anchor="end" fill="#222" font-family="Liberation Sans, Arial, Helvetica, sans-serif" font-weight="bold">40</text>
<line x1="771.7" x2="779.7" y1="673.7" y2="673.7" stroke="#111" stroke-width="3.6"/>
<text transform="translate(768.0,689.2) scale(0.973,1)" font-size="46.9" text-anchor="end" fill="#222" font-family="Liberation Sans, Arial, Helvetica, sans-serif" font-weight="bold">50</text>
<line x1="831.9" x2="831.9" y1="949.6" y2="958.1" stroke="#111" stroke-width="3.6"/>
<line x1="935.9" x2="935.9" y1="949.6" y2="958.1" stroke="#111" stroke-width="3.6"/>
<line x1="1040.0" x2="1040.0" y1="949.6" y2="958.1" stroke="#111" stroke-width="3.6"/>
<line x1="1143.7" x2="1143.7" y1="949.6" y2="958.1" stroke="#111" stroke-width="3.6"/>
<path d="M831.9,815.5V859.7M820.9,815.5h22M820.9,859.7h22M935.9,819.4V864.6M924.9,819.4h22M924.9,864.6h22M1040.0,770.8V834.8M1029.0,770.8h22M1029.0,834.8h22M1143.7,832.1V877.3M1132.7,832.1h22M1132.7,877.3h22" fill="none" stroke="#000" stroke-width="4.2"/>
<polyline points="831.9,837.6 935.9,842.0 1040.0,802.8 1143.7,854.7" fill="none" stroke="#000" stroke-width="4"/>
<circle cx="831.9" cy="837.6" r="11.2" fill="#fff" stroke="#000" stroke-width="3.8"/>
<circle cx="935.9" cy="842.0" r="11.2" fill="#fff" stroke="#000" stroke-width="3.8"/>
<circle cx="1040.0" cy="802.8" r="11.2" fill="#fff" stroke="#000" stroke-width="3.8"/>
<circle cx="1143.7" cy="854.7" r="11.2" fill="#fff" stroke="#000" stroke-width="3.8"/>
<text transform="translate(794.4,671.0) scale(0.739,1)" font-size="56.69" text-anchor="start" fill="#000" font-family="Liberation Sans, Arial, Helvetica, sans-serif" font-weight="bold">E</text>
<text transform="translate(646.0,796.9) rotate(-90) scale(0.982,1)" font-size="46" text-anchor="middle" fill="#000" font-family="Liberation Sans, Arial, Helvetica, sans-serif" font-weight="bold">Burst</text>
<text transform="translate(701.0,796.3) rotate(-90) scale(0.972,1)" font-size="46" text-anchor="middle" fill="#000" font-family="Liberation Sans, Arial, Helvetica, sans-serif" font-weight="bold">Responses</text>
</g>
<g id="panelF">
<path d="M778.6,1014.6V1292.0H1195.5" fill="none" stroke="#111" stroke-width="4.2"/>
<line x1="770.6" x2="778.6" y1="1292.0" y2="1292.0" stroke="#111" stroke-width="3.6"/>
<text transform="translate(766.9,1307.5) scale(0.973,1)" font-size="46.9" text-anchor="end" fill="#222" font-family="Liberation Sans, Arial, Helvetica, sans-serif" font-weight="bold">0</text>
<line x1="770.6" x2="778.6" y1="1223.1" y2="1223.1" stroke="#111" stroke-width="3.6"/>
<text transform="translate(766.9,1238.6) scale(0.973,1)" font-size="46.9" text-anchor="end" fill="#222" font-family="Liberation Sans, Arial, Helvetica, sans-serif" font-weight="bold">10</text>
<line x1="770.6" x2="778.6" y1="1154.2" y2="1154.2" stroke="#111" stroke-width="3.6"/>
<text transform="translate(766.9,1169.7) scale(0.973,1)" font-size="46.9" text-anchor="end" fill="#222" font-family="Liberation Sans, Arial, Helvetica, sans-serif" font-weight="bold">20</text>
<line x1="770.6" x2="778.6" y1="1085.3" y2="1085.3" stroke="#111" stroke-width="3.6"/>
<text transform="translate(766.9,1100.8) scale(0.973,1)" font-size="46.9" text-anchor="end" fill="#222" font-family="Liberation Sans, Arial, Helvetica, sans-serif" font-weight="bold">30</text>
<line x1="770.6" x2="778.6" y1="1016.4" y2="1016.4" stroke="#111" stroke-width="3.6"/>
<text transform="translate(766.9,1031.9) scale(0.973,1)" font-size="46.9" text-anchor="end" fill="#222" font-family="Liberation Sans, Arial, Helvetica, sans-serif" font-weight="bold">40</text>
<line x1="830.2" x2="830.2" y1="1292.0" y2="1300.5" stroke="#111" stroke-width="3.6"/>
<line x1="934.0" x2="934.0" y1="1292.0" y2="1300.5" stroke="#111" stroke-width="3.6"/>
<line x1="1037.7" x2="1037.7" y1="1292.0" y2="1300.5" stroke="#111" stroke-width="3.6"/>
<line x1="1141.2" x2="1141.2" y1="1292.0" y2="1300.5" stroke="#111" stroke-width="3.6"/>
<path d="M830.2,1115.6V1139.0M819.2,1115.6h22M819.2,1139.0h22M934.0,1110.1V1133.5M923.0,1110.1h22M923.0,1133.5h22M1037.7,1106.7V1131.5M1026.7,1106.7h22M1026.7,1131.5h22M1141.2,1141.8V1176.2M1130.2,1141.8h22M1130.2,1176.2h22" fill="none" stroke="#000" stroke-width="4.2"/>
<polyline points="830.2,1127.3 934.0,1121.8 1037.7,1119.1 1141.2,1159.0" fill="none" stroke="#000" stroke-width="4"/>
<circle cx="830.2" cy="1127.3" r="11.2" fill="#fff" stroke="#000" stroke-width="3.8"/>
<circle cx="934.0" cy="1121.8" r="11.2" fill="#fff" stroke="#000" stroke-width="3.8"/>
<circle cx="1037.7" cy="1119.1" r="11.2" fill="#fff" stroke="#000" stroke-width="3.8"/>
<circle cx="1141.2" cy="1159.0" r="11.2" fill="#fff" stroke="#000" stroke-width="3.8"/>
<text transform="translate(795.0,1013.0) scale(0.769,1)" font-size="56.69" text-anchor="start" fill="#000" font-family="Liberation Sans, Arial, Helvetica, sans-serif" font-weight="bold">F</text>
<text transform="translate(698.0,1138.8) rotate(-90) scale(0.964,1)" font-size="46" text-anchor="middle" fill="#000" font-family="Liberation Sans, Arial, Helvetica, sans-serif" font-weight="bold">Peak Rate</text>
</g>
<g id="panelG">
<path d="M778.8,1355.4V1632.9H1196.5" fill="none" stroke="#111" stroke-width="4.2"/>
<line x1="770.8" x2="778.8" y1="1632.9" y2="1632.9" stroke="#111" stroke-width="3.6"/>
<text transform="translate(767.1,1648.4) scale(0.973,1)" font-size="46.9" text-anchor="end" fill="#222" font-family="Liberation Sans, Arial, Helvetica, sans-serif" font-weight="bold">0</text>
<line x1="770.8" x2="778.8" y1="1587.0" y2="1587.0" stroke="#111" stroke-width="3.6"/>
<text transform="translate(767.1,1602.5) scale(0.973,1)" font-size="46.9" text-anchor="end" fill="#222" font-family="Liberation Sans, Arial, Helvetica, sans-serif" font-weight="bold">2</text>
<line x1="770.8" x2="778.8" y1="1541.0" y2="1541.0" stroke="#111" stroke-width="3.6"/>
<text transform="translate(767.1,1556.5) scale(0.973,1)" font-size="46.9" text-anchor="end" fill="#222" font-family="Liberation Sans, Arial, Helvetica, sans-serif" font-weight="bold">4</text>
<line x1="770.8" x2="778.8" y1="1495.1" y2="1495.1" stroke="#111" stroke-width="3.6"/>
<text transform="translate(767.1,1510.6) scale(0.973,1)" font-size="46.9" text-anchor="end" fill="#222" font-family="Liberation Sans, Arial, Helvetica, sans-serif" font-weight="bold">6</text>
<line x1="770.8" x2="778.8" y1="1449.1" y2="1449.1" stroke="#111" stroke-width="3.6"/>
<text transform="translate(767.1,1464.6) scale(0.973,1)" font-size="46.9" text-anchor="end" fill="#222" font-family="Liberation Sans, Arial, Helvetica, sans-serif" font-weight="bold">8</text>
<line x1="770.8" x2="778.8" y1="1403.2" y2="1403.2" stroke="#111" stroke-width="3.6"/>
<text transform="translate(767.1,1418.7) scale(0.973,1)" font-size="46.9" text-anchor="end" fill="#222" font-family="Liberation Sans, Arial, Helvetica, sans-serif" font-weight="bold">10</text>
<line x1="770.8" x2="778.8" y1="1357.2" y2="1357.2" stroke="#111" stroke-width="3.6"/>
<text transform="translate(767.1,1372.7) scale(0.973,1)" font-size="46.9" text-anchor="end" fill="#222" font-family="Liberation Sans, Arial, Helvetica, sans-serif" font-weight="bold">12</text>
<line x1="830.8" x2="830.8" y1="1632.9" y2="1641.4" stroke="#111" stroke-width="3.6"/>
<text transform="translate(830.8,1678.2) scale(0.990,1)" font-size="39" text-anchor="middle" fill="#222" font-family="Liberation Sans, Arial, Helvetica, sans-serif" font-weight="bold">0</text>
<line x1="934.2" x2="934.2" y1="1632.9" y2="1641.4" stroke="#111" stroke-width="3.6"/>
<text transform="translate(934.2,1678.2) scale(0.990,1)" font-size="39" text-anchor="middle" fill="#222" font-family="Liberation Sans, Arial, Helvetica, sans-serif" font-weight="bold">0.5</text>
<line x1="1038.3" x2="1038.3" y1="1632.9" y2="1641.4" stroke="#111" stroke-width="3.6"/>
<text transform="translate(1038.3,1678.2) scale(0.990,1)" font-size="39" text-anchor="middle" fill="#222" font-family="Liberation Sans, Arial, Helvetica, sans-serif" font-weight="bold">1</text>
<line x1="1142.3" x2="1142.3" y1="1632.9" y2="1641.4" stroke="#111" stroke-width="3.6"/>
<text transform="translate(1142.3,1678.2) scale(0.990,1)" font-size="39" text-anchor="middle" fill="#222" font-family="Liberation Sans, Arial, Helvetica, sans-serif" font-weight="bold">2</text>
<path d="M1038.3,1414.2V1437.2M1027.3,1414.2h22M1027.3,1437.2h22M1142.3,1363.4V1401.5M1131.3,1363.4h22M1131.3,1401.5h22" fill="none" stroke="#000" stroke-width="4.2"/>
<polyline points="830.8,1408.9 934.2,1407.7 1038.3,1425.7 1142.3,1382.5" fill="none" stroke="#000" stroke-width="4"/>
<circle cx="830.8" cy="1408.9" r="11.2" fill="#fff" stroke="#000" stroke-width="3.8"/>
<circle cx="934.2" cy="1407.7" r="11.2" fill="#fff" stroke="#000" stroke-width="3.8"/>
<circle cx="1038.3" cy="1425.7" r="11.2" fill="#fff" stroke="#000" stroke-width="3.8"/>
<circle cx="1142.3" cy="1382.5" r="11.2" fill="#fff" stroke="#000" stroke-width="3.8"/>
<text transform="translate(785.7,1356.4) scale(0.867,1)" font-size="56.92" text-anchor="start" fill="#000" font-family="Liberation Sans, Arial, Helvetica, sans-serif" font-weight="bold">G</text>
<text transform="translate(698.2,1480.0) rotate(-90) scale(0.974,1)" font-size="46" text-anchor="middle" fill="#000" font-family="Liberation Sans, Arial, Helvetica, sans-serif" font-weight="bold">Peak Time (sec)</text>
<text transform="translate(793.3,1745.0) scale(0.996,1)" font-size="39.6" text-anchor="start" fill="#111" font-family="Liberation Sans, Arial, Helvetica, sans-serif" font-weight="bold">WIN55,212-2 (mg/kg)</text>
</g>
</svg>
</body></html>
